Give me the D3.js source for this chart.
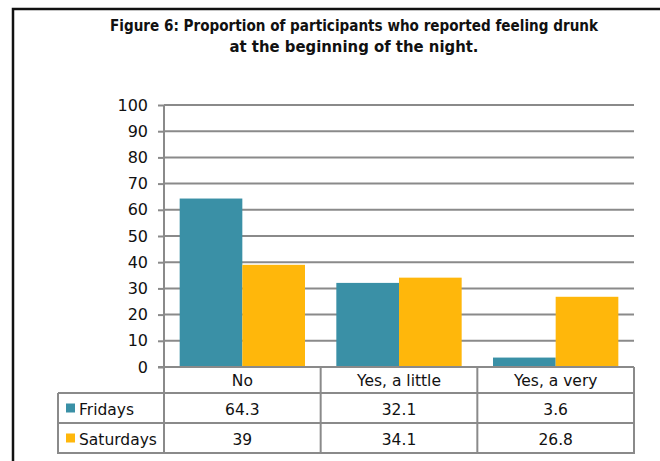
<!DOCTYPE html>
<html>
<head>
<meta charset="utf-8">
<script src="https://cdn.jsdelivr.net/npm/d3@7"></script>
<style>
  html, body { margin: 0; padding: 0; background: #fff; }
  svg { display: block; }
</style>
</head>
<body>
<svg id="chart" width="660" height="461"></svg>
<script>
const titleLines = ["Figure 6: Proportion of participants who reported feeling drunk", "at the beginning of the night."];
const categories = ["No", "Yes, a little", "Yes, a very"];
const seriesNames = ["Fridays", "Saturdays"];
const fridays = [64.3, 32.1, 3.6];
const saturdays = [39, 34.1, 26.8];
const yTicks = [0, 10, 20, 30, 40, 50, 60, 70, 80, 90, 100];
const seriesColors = ["#3a90a6", "#ffb70b"];

const seriesValues = [fridays, saturdays];
const svg = d3.select("#chart");
const FONT = "'DejaVu Sans', Verdana, sans-serif";
const gridColor = "#8a8a8a";

// outer frame
svg.append("rect").attr("x", 13).attr("y", 9).attr("width", 700).attr("height", 500)
  .attr("fill", "none").attr("stroke", "#111").attr("stroke-width", 2.5);

// title
svg.append("g").selectAll("text").data(titleLines).join("text")
  .attr("x", 354).attr("y", (d, i) => 31 + i * 20.5)
  .attr("text-anchor", "middle")
  .attr("font-family", "'Liberation Sans Narrow', 'DejaVu Sans Condensed', 'Liberation Sans', Arial, sans-serif")
  .attr("font-weight", "bold")
  .attr("font-size", 15.5)
  .attr("fill", "#111")
  .attr("textLength", (d, i) => i === 0 ? 488 : 249)
  .attr("lengthAdjust", "spacingAndGlyphs")
  .text(d => d);

const plotLeft = 164, plotRight = 634, plotTop = 105, plotBottom = 367;
const x = d3.scaleBand().domain(categories).range([plotLeft, plotRight]).paddingInner(0).paddingOuter(0);
const xs = d3.scaleBand().domain(seriesNames).range([0, x.bandwidth()]).paddingInner(0).paddingOuter(0.25);
const y = d3.scaleLinear().domain([0, 100]).range([plotBottom, plotTop]);

// gridlines
svg.append("g").selectAll("line").data(yTicks.filter(t => t > 0)).join("line")
  .attr("x1", plotLeft).attr("x2", plotRight)
  .attr("y1", d => y(d)).attr("y2", d => y(d))
  .attr("stroke", gridColor).attr("stroke-width", 2);

// bars
const rows = categories.map((c, i) => ({ cat: c, vals: seriesNames.map((s, j) => ({ s, j, v: seriesValues[j][i] })) }));
svg.append("g").selectAll("g").data(rows).join("g")
  .attr("transform", d => `translate(${x(d.cat)},0)`)
  .selectAll("rect").data(d => d.vals).join("rect")
  .attr("x", d => xs(d.s)).attr("width", xs.bandwidth())
  .attr("y", d => y(d.v)).attr("height", d => y(0) - y(d.v))
  .attr("fill", d => seriesColors[d.j]);

// y axis
const yAxis = svg.append("g").attr("transform", `translate(${plotLeft},0)`)
  .call(d3.axisLeft(y).tickValues(yTicks).tickSize(6).tickPadding(10).tickFormat(d3.format("d")));
yAxis.select(".domain").remove();
yAxis.selectAll(".tick line").attr("stroke", gridColor).attr("stroke-width", 2);
yAxis.selectAll(".tick text").attr("font-family", FONT).attr("font-size", 16).attr("fill", "#111");

// data table
const tableLeft = 58;
const rowLines = [393, 423, 453];
const tbl = svg.append("g");
// axis / category column boundary and baseline
tbl.append("line").attr("x1", plotLeft).attr("x2", plotLeft).attr("y1", plotTop).attr("y2", rowLines[2])
  .attr("stroke", gridColor).attr("stroke-width", 2);
tbl.append("line").attr("x1", plotLeft - 6).attr("x2", plotRight).attr("y1", y(0)).attr("y2", y(0))
  .attr("stroke", gridColor).attr("stroke-width", 2);
tbl.selectAll("line.h").data(rowLines).join("line").attr("class", "h")
  .attr("x1", tableLeft).attr("x2", plotRight + 1).attr("y1", d => d).attr("y2", d => d)
  .attr("stroke", gridColor).attr("stroke-width", 2);
tbl.append("line").attr("x1", tableLeft).attr("x2", tableLeft).attr("y1", rowLines[0]).attr("y2", rowLines[2] + 1)
  .attr("stroke", gridColor).attr("stroke-width", 2);
tbl.selectAll("line.v").data(categories).join("line").attr("class", "v")
  .attr("x1", d => x(d) + x.bandwidth()).attr("x2", d => x(d) + x.bandwidth())
  .attr("y1", y(0)).attr("y2", rowLines[2] + 1)
  .attr("stroke", gridColor).attr("stroke-width", 2);

// header row
tbl.selectAll("text.cat").data(categories).join("text").attr("class", "cat")
  .attr("x", d => x(d) + x.bandwidth() / 2).attr("y", 386)
  .attr("text-anchor", "middle").attr("font-family", FONT).attr("font-size", 15.5).attr("fill", "#111")
  .text(d => d);

// series rows
const rowBase = [415, 445];
seriesNames.forEach((s, j) => {
  const mid = (rowLines[j] + rowLines[j + 1]) / 2;
  tbl.append("rect").attr("x", 66).attr("y", mid - 4.5).attr("width", 9).attr("height", 9)
    .attr("fill", seriesColors[j]);
  tbl.append("text").attr("x", 79).attr("y", rowBase[j])
    .attr("font-family", FONT).attr("font-size", 15.5).attr("fill", "#111").text(s);
  tbl.selectAll("text.v" + j).data(categories).join("text").attr("class", "v" + j)
    .attr("x", d => x(d) + x.bandwidth() / 2).attr("y", rowBase[j])
    .attr("text-anchor", "middle").attr("font-family", FONT).attr("font-size", 15.5).attr("fill", "#111")
    .text((d, i) => seriesValues[j][i]);
});
</script>
</body>
</html>
